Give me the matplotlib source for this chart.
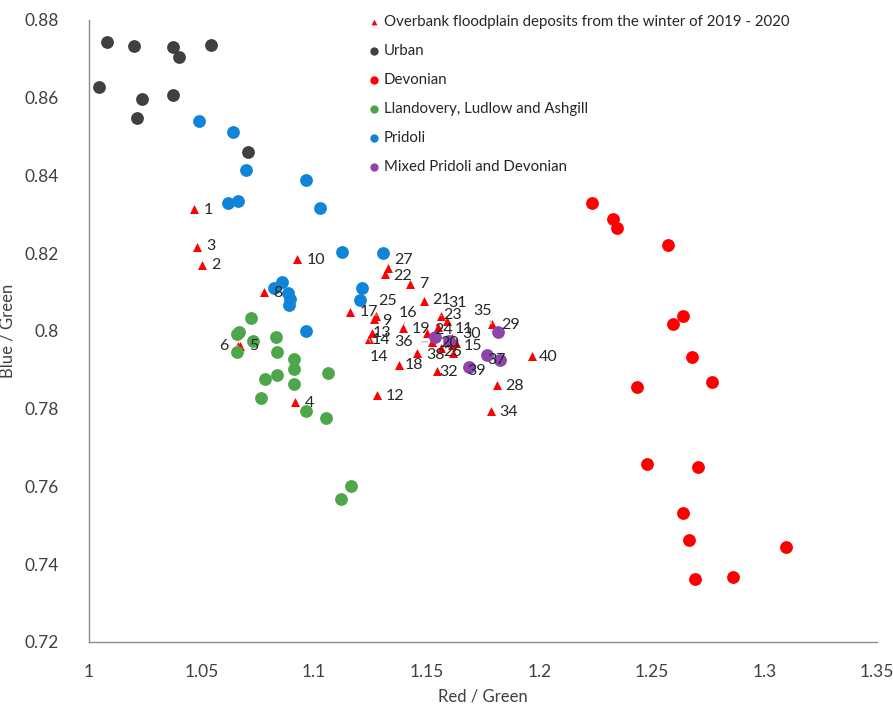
import matplotlib.pyplot as plt
from matplotlib.ticker import FuncFormatter

plt.rcParams['font.family'] = ['Lato', 'DejaVu Sans']

# overbank floodplain deposits (numbered samples)
od_name = ["1", "2", "3", "4", "5", "6", "7", "8", "9", "10",
           "11", "12", "13", "14", "15", "16", "17", "18", "19", "20",
           "21", "22", "23", "24", "25", "26", "27", "28", "29", "30",
           "31", "32", "34", "35", "36", "37", "38", "39", "40"]
od_x = [1.0466, 1.0502, 1.0480, 1.0915, 1.0670, 1.0662, 1.1425, 1.0777, 1.1265, 1.0924,
        1.1612, 1.1279, 1.1256, 1.1243, 1.1616, 1.1394, 1.1159, 1.1376, 1.1501, 1.1563,
        1.1487, 1.1314, 1.1589, 1.1550, 1.1274, 1.1612, 1.1328, 1.1812, 1.1816, 1.1630,
        1.1563, 1.1545, 1.1785, 1.1790, 1.1523, 1.1767, 1.1456, 1.1687, 1.1966]
od_y = [0.8314, 0.8170, 0.8216, 0.7818, 0.7962, 0.7962, 0.8121, 0.8100, 0.8031, 0.8185,
        0.7982, 0.7836, 0.7995, 0.7980, 0.7944, 0.8008, 0.8049, 0.7913, 0.7995, 0.7957,
        0.8077, 0.8147, 0.8025, 0.8010, 0.8039, 0.7964, 0.8162, 0.7861, 0.7999, 0.7970,
        0.8039, 0.7898, 0.7793, 0.8018, 0.7972, 0.7940, 0.7944, 0.7909, 0.7936]

urban_x = [1.0081, 1.0200, 1.0374, 1.0398, 1.0542, 1.0046, 1.0235, 1.0371, 1.0214, 1.0706]
urban_y = [0.8742, 0.8734, 0.8730, 0.8705, 0.8736, 0.8628, 0.8597, 0.8608, 0.8547, 0.8460]

devon_x = [1.2235, 1.2328, 1.2346, 1.2573, 1.2640, 1.2592, 1.2679, 1.2768, 1.2434,
           1.2478, 1.2707, 1.2640, 1.2665, 1.3096, 1.2690, 1.2859]
devon_y = [0.8330, 0.8289, 0.8266, 0.8220, 0.8038, 0.8018, 0.7932, 0.7868, 0.7855,
           0.7658, 0.7649, 0.7533, 0.7462, 0.7445, 0.7362, 0.7367]

llan_x = [1.0720, 1.0656, 1.0668, 1.0728, 1.0656, 1.0829, 1.0837, 1.0910, 1.0910,
          1.0836, 1.0780, 1.0910, 1.0763, 1.1062, 1.0963, 1.1052, 1.1120, 1.1165]
llan_y = [0.8034, 0.7992, 0.7998, 0.7975, 0.7945, 0.7984, 0.7945, 0.7928, 0.7902,
          0.7887, 0.7877, 0.7863, 0.7827, 0.7891, 0.7793, 0.7776, 0.7568, 0.7601]

prid_x = [1.0487, 1.0638, 1.0698, 1.0966, 1.0618, 1.0660, 1.1026, 1.1125, 1.1307,
          1.1213, 1.1205, 1.0823, 1.0857, 1.0882, 1.0894, 1.0888, 1.0966]
prid_y = [0.8540, 0.8511, 0.8414, 0.8389, 0.8329, 0.8334, 0.8317, 0.8204, 0.8201,
          0.8110, 0.8079, 0.8110, 0.8127, 0.8097, 0.8082, 0.8067, 0.8001]

mixed_x = [1.1536, 1.1598, 1.1817, 1.1769, 1.1825, 1.1689]
mixed_y = [0.7984, 0.7975, 0.7998, 0.7938, 0.7924, 0.7908]

# label placement: name -> (dx px, dy px (up), leader line)
lab_pos = {
    "1": (14, -1, 0), "2": (14, 0, 0), "3": (14, 1, 0), "4": (14, -1, 0),
    "5": (14, 0, 0), "6": (-14, 0, 1), "7": (14, 0, 0), "8": (14, -1, 0),
    "9": (13, -2, 0), "10": (19, -1, 0), "11": (12, 9, 0), "12": (18, -1, 0),
    "13": (10, 0, 0), "14": (12, -1, 0), "15": (20, 7, 1), "16": (5, 15, 1),
    "17": (19, 0, 0), "18": (15, 0, 0), "19": (-6, 4, 0), "20": (9, 5, 0),
    "21": (18, 1, 0), "22": (18, -2, 0), "23": (6, 6, 0), "24": (6, -3, 0),
    "25": (12, 15, 1), "26": (1, -7, 0), "27": (16, 8, 1), "28": (18, -1, 0),
    "29": (13, 6, 0), "30": (16, 9, 1), "31": (17, 13, 1), "32": (12, -1, 0),
    "34": (18, -1, 0), "35": (-9, 13, 1), "36": (-28, 0, 1), "37": (10, -6, 0),
    "38": (19, -2, 0), "39": (8, -5, 0), "40": (17, -1, 0),
}

fig = plt.figure(figsize=(8.93, 7.10), dpi=100)
ax = fig.add_axes([0.0997, 0.0958, 0.8823, 0.8762])

ax.scatter(od_x, od_y, marker="^", s=42, color="#ff0000", linewidths=0, zorder=2,
           label="Overbank floodplain deposits from the winter of 2019 - 2020")
ax.scatter(urban_x, urban_y, s=85, color="#404040", linewidths=0, zorder=3, label="Urban")
ax.scatter(devon_x, devon_y, s=85, color="#ff0000", linewidths=0, zorder=3, label="Devonian")
ax.scatter(llan_x, llan_y, s=85, color="#4ea64a", linewidths=0, zorder=3,
           label="Llandovery, Ludlow and Ashgill")
ax.scatter(prid_x, prid_y, s=85, color="#0f84d8", linewidths=0, zorder=3, label="Pridoli")
ax.scatter(mixed_x, mixed_y, s=85, color="#8e44ad", linewidths=0, zorder=3,
           label="Mixed Pridoli and Devonian")

leader = dict(arrowstyle="-", color="#b0b0b0", lw=0.8, shrinkA=4, shrinkB=3)
for name, x, y in zip(od_name, od_x, od_y):
    dx, dy, lead = lab_pos[name]
    ax.annotate(name, (x, y), xytext=(dx, dy), textcoords="offset pixels",
                ha="center", va="center", fontsize=11.5, color="#262626",
                arrowprops=leader if lead else None, zorder=5)
# second "14" label seen below the cluster
ax.annotate("14", (od_x[13], od_y[13]), xytext=(10, -18), textcoords="offset pixels",
            ha="center", va="center", fontsize=11.5, color="#262626",
            arrowprops=leader, zorder=5)

ax.set_xlim(1, 1.35)
ax.set_ylim(0.72, 0.88)
ax.set_xticks([1, 1.05, 1.1, 1.15, 1.2, 1.25, 1.3, 1.35])
ax.set_yticks([0.72, 0.74, 0.76, 0.78, 0.8, 0.82, 0.84, 0.86, 0.88])
ax.xaxis.set_major_formatter(FuncFormatter(lambda v, p: f"{v:g}"))
ax.yaxis.set_major_formatter(FuncFormatter(lambda v, p: f"{v:g}"))
ax.tick_params(axis="x", length=0, labelsize=12.5, colors="#404040", pad=16)
ax.tick_params(axis="y", length=0, labelsize=12.5, colors="#404040", pad=22)
for s in ["top", "right"]:
    ax.spines[s].set_visible(False)
for s in ["left", "bottom"]:
    ax.spines[s].set_color("#8c8c8c")
    ax.spines[s].set_linewidth(1.0)
ax.set_xlabel("Red / Green", fontsize=12, color="#404040", labelpad=6)
ax.set_ylabel("Blue / Green", fontsize=12, color="#404040", labelpad=6)

leg = ax.legend(loc="upper left", bbox_to_anchor=(0.333, 1.03), frameon=False,
                fontsize=10.8, labelspacing=1.0, handletextpad=0.05, markerscale=0.65,
                handlelength=1.2)
for t in leg.get_texts():
    t.set_color("#262626")

fig.savefig("out.png", dpi=100)
